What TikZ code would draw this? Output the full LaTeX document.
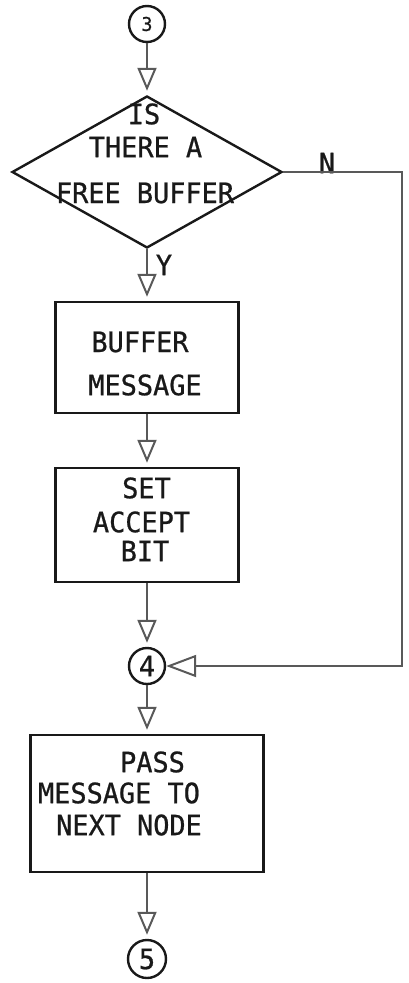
\documentclass[tikz,border=0pt]{standalone}
\usepackage{fontspec}
\setmainfont[FakeStretch=0.96, FakeBold=0.8]{DejaVu Sans Mono}
\usetikzlibrary{shapes.geometric, arrows.meta}

\tikzset{
  shape line/.style={draw=black!90, line width=2.4pt},
  procbox/.style={shape line, rectangle, inner sep=0pt},
  decision/.style={shape line, diamond, inner sep=0pt},
  connector/.style={shape line, circle, inner sep=0pt, minimum size=36pt,
    font=\fontsize{28}{28}\selectfont, text=black!90},
  txt/.style={inner sep=0pt, font=\fontsize{28}{28}\selectfont, text=black!90},
  flow/.style={draw=black!65, line width=2.6pt, line join=miter,
    -{Triangle[open, length=23pt, width=19pt, line width=2pt]}, shorten >=4pt},
  sideflow/.style={flow, shorten >=0pt,
    -{Triangle[open, length=30pt, width=22pt, line width=2pt]}},
}

\begin{document}
\begin{tikzpicture}[x=1pt, y=-1pt]
\useasboundingbox (0,0) rectangle (409,983);

% off-page connector in
\node[connector, font=\fontsize{19}{19}\selectfont] (c3) at (147,24) {3};

% decision
\node[decision, minimum width=270pt, minimum height=152pt] (dia) at (147,172) {};
\node[txt] (d1) at (144,114) {IS};
\node[txt] (d2) at (145.5,147) {THERE A};
\node[txt] (d3) at (145,193) {FREE BUFFER};
\node[txt] (lblN) at (327,163) {N};
\node[txt] (lblY) at (164,265) {Y};

% buffer message
\node[procbox, minimum width=183pt, minimum height=111pt] (b1) at (147,357.5) {};
\node[txt] (b1a) at (140,342) {BUFFER};
\node[txt] (b1b) at (145,385) {MESSAGE};

% set accept bit
\node[procbox, minimum width=183pt, minimum height=114pt] (b2) at (147,525) {};
\node[txt] (b2a) at (146.5,488) {SET};
\node[txt] (b2b) at (141.5,522) {ACCEPT};
\node[txt] (b2c) at (145,551) {BIT};

% join connector
\node[connector] (c4) at (147,666) {4};

% pass message
\node[procbox, minimum width=233pt, minimum height=137pt] (b3) at (147,803.5) {};
\node[txt] (b3a) at (152.5,762) {PASS};
\node[txt] (b3b) at (119,793) {MESSAGE TO};
\node[txt] (b3c) at (129,825) {NEXT NODE};

% off-page connector out
\node[connector, minimum size=38pt] (c5) at (147,959) {5};

\coordinate (turn) at (402,172);

% flow lines
\draw[flow] (c3.south) -- (dia.north);
\draw[flow] (dia.south) -- (b1.north);
\draw[flow] (b1.south) -- (b2.north);
\draw[flow] (b2.south) -- (c4.north);
\draw[flow] (c4.south) -- (b3.north);
\draw[flow] (b3.south) -- (c5.north);
\draw[sideflow] (dia.east) -- (turn) |- (c4.east);
\end{tikzpicture}
\end{document}
